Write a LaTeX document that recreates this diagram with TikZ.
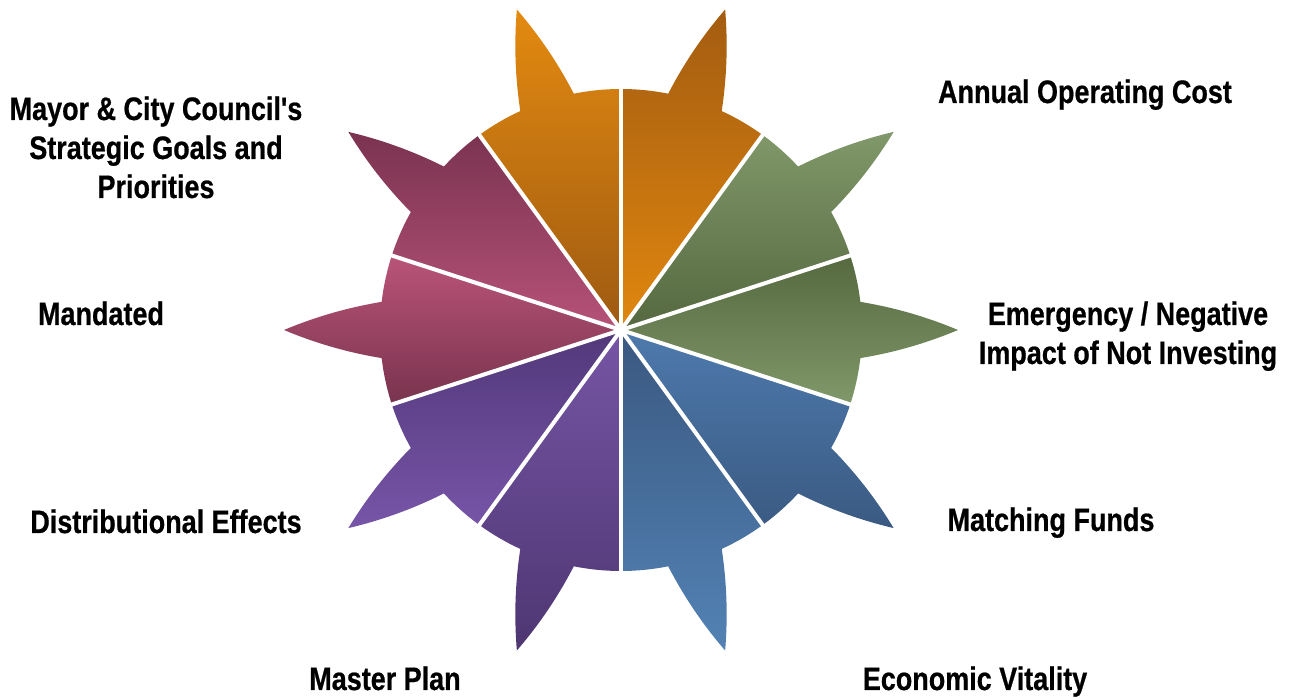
\documentclass[tikz,border=0pt]{standalone}
\usepackage{fontspec}
\newfontfamily\labfont{Liberation Sans}[FakeStretch=0.83, BoldFeatures={FakeBold=0.6}]
\definecolor{o1t}{HTML}{E38A10}\definecolor{o1b}{HTML}{9E5A12}
\definecolor{o2t}{HTML}{A35C10}\definecolor{o2b}{HTML}{E0870F}
\definecolor{g1t}{HTML}{80986A}\definecolor{g1b}{HTML}{55683F}
\definecolor{g2t}{HTML}{56693F}\definecolor{g2b}{HTML}{80986A}
\definecolor{b1t}{HTML}{4E7AAD}\definecolor{b1b}{HTML}{3A5A82}
\definecolor{b2t}{HTML}{3A5880}\definecolor{b2b}{HTML}{5282B4}
\definecolor{p1t}{HTML}{7655A5}\definecolor{p1b}{HTML}{4E3672}
\definecolor{p2t}{HTML}{52387A}\definecolor{p2b}{HTML}{7755A8}
\definecolor{m1t}{HTML}{BA5479}\definecolor{m1b}{HTML}{78334D}
\definecolor{m2t}{HTML}{7A3350}\definecolor{m2b}{HTML}{B65277}
\tikzset{
  lbl/.style={anchor=base, inner sep=0pt, font=\labfont\bfseries\fontsize{32.5}{39}\selectfont},
  gap/.style={draw=white, line width=4pt},
}
\newcommand{\twolines}[2]{\begin{tabular}[t]{@{}c@{}}#1\\#2\end{tabular}}
\newcommand{\threelines}[3]{\begin{tabular}[t]{@{}c@{}}#1\\#2\\#3\end{tabular}}
\begin{document}
\begin{tikzpicture}[x=1pt,y=1pt]
\useasboundingbox (0,0) rectangle (1301,698);
\begin{scope}[shift={(621,368)}]
\def\R{241}
\def\T{337}
\foreach \t/\ct/\cb in {108/o1t/o1b, 72/o2t/o2b, 36/g1t/g1b, 0/g2t/g2b, -36/b1t/b1b, -72/b2t/b2b, -108/p1t/p1b, -144/p2t/p2b, 180/m1t/m1b, 144/m2t/m2b}{
  \shade[top color=\ct, bottom color=\cb]
    (0,0) -- ({\t-18}:\R) arc[start angle=\t-18, end angle=\t-6.7, radius=\R]
    .. controls ({\t-4.73}:273.9) and ({\t-2.48}:305.8) .. (\t:\T)
    .. controls ({\t+2.48}:305.8) and ({\t+4.73}:273.9) .. ({\t+6.7}:\R)
    arc[start angle=\t+6.7, end angle=\t+18, radius=\R] -- cycle;
}
\coordinate (c) at (0,0);
\foreach \a in {18,54,90,126,162,198,234,270,306,342}{
  \coordinate (e\a) at (\a:\R+4);
  \draw[gap] (c) -- (e\a);
}
\fill[white] (c) circle (2.5);
\end{scope}
\node[lbl] (mayor) at (156,578) {\threelines{Mayor \& City Council's}{Strategic Goals and}{Priorities}};
\node[lbl] (annual) at (1085,595) {Annual Operating Cost};
\node[lbl] (mand) at (101,373) {Mandated};
\node[lbl] (emerg) at (1128,373) {\twolines{Emergency / Negative}{Impact of Not Investing}};
\node[lbl] (distr) at (166,165) {Distributional Effects};
\node[lbl] (match) at (1051,167) {Matching Funds};
\node[lbl] (master) at (385,8) {Master Plan};
\node[lbl] (econ) at (975,8) {Economic Vitality};
\end{tikzpicture}
\end{document}
